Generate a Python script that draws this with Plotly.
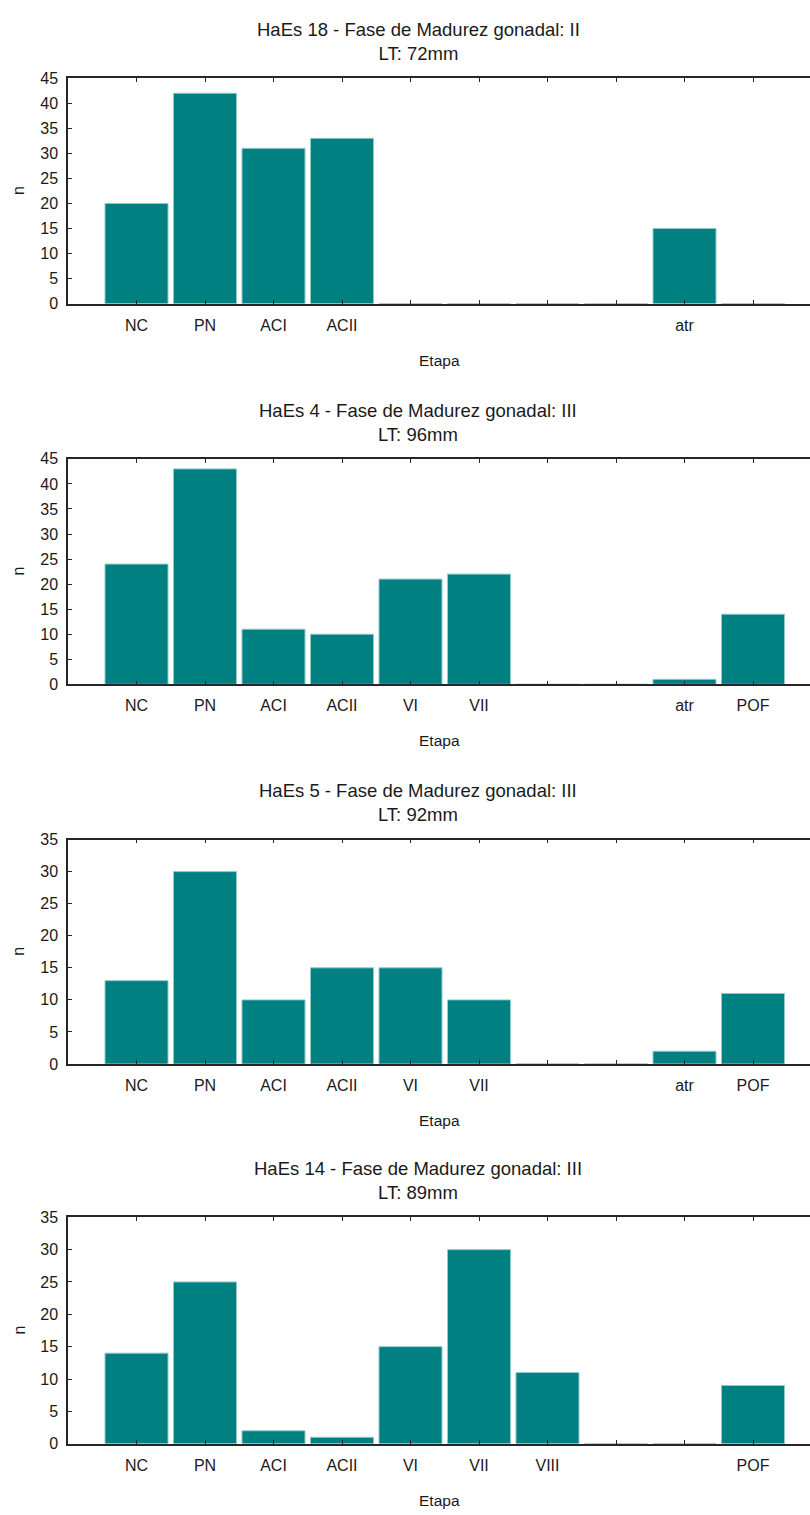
import plotly.graph_objects as go

# Oocyte development stages (x axis categories)
stages = ["NC", "PN", "ACI", "ACII", "VI", "VII", "VIII", "IX", "atr", "POF"]

# One panel per specimen
specimens = ["HaEs 18", "HaEs 4", "HaEs 5", "HaEs 14"]
maturity_phase = ["II", "III", "III", "III"]
total_length_mm = [72, 96, 92, 89]
y_max = [45, 45, 35, 35]

counts_haes18 = [20, 42, 31, 33, 0, 0, 0, 0, 15, 0]
counts_haes4 = [24, 43, 11, 10, 21, 22, 0, 0, 1, 14]
counts_haes5 = [13, 30, 10, 15, 15, 10, 0, 0, 2, 11]
counts_haes14 = [14, 25, 2, 1, 15, 30, 11, 0, 0, 9]

all_counts = [counts_haes18, counts_haes4, counts_haes5, counts_haes14]

W, H = 810, 1515
LEFT = 68
panel_px = [(71, 299), (456, 684), (841, 1068), (1223, 1452)]  # (top, bottom) in pixels

BAR = "#008080"
EDGE = "#93caca"
AX = "#262626"
TXT = "#1a1a1a"
FONT = "Liberation Sans, Arial, sans-serif"

fig = go.Figure()
layout = dict(
    width=W, height=H,
    margin=dict(l=0, r=0, t=0, b=0),
    paper_bgcolor="white", plot_bgcolor="white",
    showlegend=False,
    font=dict(family=FONT, size=16, color=TXT),
    bargap=0.08,
    annotations=[],
)

for i, counts in enumerate(all_counts):
    n = i + 1
    xa = "x" if n == 1 else f"x{n}"
    ya = "y" if n == 1 else f"y{n}"
    top, bot = panel_px[i]
    fig.add_trace(go.Bar(
        x=stages, y=counts, xaxis=xa, yaxis=ya,
        marker=dict(color=BAR, line=dict(color=EDGE, width=1)),
        hoverinfo="x+y",
    ))
    ticktext = [s if v > 0 else "" for s, v in zip(stages, counts)]
    layout[f"xaxis{'' if n == 1 else n}"] = dict(
        domain=[LEFT / W, 1.0], anchor=ya,
        type="category", categoryorder="array", categoryarray=stages,
        range=[-1, (W - LEFT) / 68.5 - 1],
        tickmode="array", tickvals=stages, ticktext=ticktext,
        ticks="inside", ticklen=4, tickwidth=1, tickcolor=AX,
        showline=True, linecolor=AX, linewidth=1.5, mirror="ticks",
        showgrid=False, zeroline=False, ticklabelstandoff=6,
        tickfont=dict(size=16, color=TXT),
    )
    layout[f"yaxis{'' if n == 1 else n}"] = dict(
        domain=[1 - bot / H, 1 - top / H], anchor=xa,
        range=[0, y_max[i]], dtick=5, tick0=0,
        ticks="inside", ticklen=4, tickwidth=1, tickcolor=AX,
        showline=True, linecolor=AX, linewidth=1.5,
        showgrid=False, zeroline=False, ticklabelstandoff=5,
        tickfont=dict(size=16, color=TXT),
    )
    title = (f"{specimens[i]} - Fase de Madurez gonadal: {maturity_phase[i]}"
             f"<br>LT: {total_length_mm[i]}mm")
    layout["annotations"].append(dict(
        text=title, x=418 / W, y=1 - (top - 37) / H, xref="paper", yref="paper",
        xanchor="center", yanchor="middle", showarrow=False,
        font=dict(size=18.5, family=FONT, color=TXT),
    ))
    layout["annotations"].append(dict(
        text="Etapa", x=(LEFT + W) / 2 / W, y=1 - (bot + 57) / H,
        xref="paper", yref="paper", xanchor="center", yanchor="middle",
        showarrow=False, font=dict(size=15.5, family=FONT, color=TXT),
    ))
    layout["annotations"].append(dict(
        text="n", x=19 / W, y=1 - (top + bot) / 2 / H, textangle=-90,
        xref="paper", yref="paper", xanchor="center", yanchor="middle",
        showarrow=False, font=dict(size=16, family=FONT, color=TXT),
    ))

fig.update_layout(**layout)
fig.write_html("out.html", post_script="document.body.style.margin='0';")
